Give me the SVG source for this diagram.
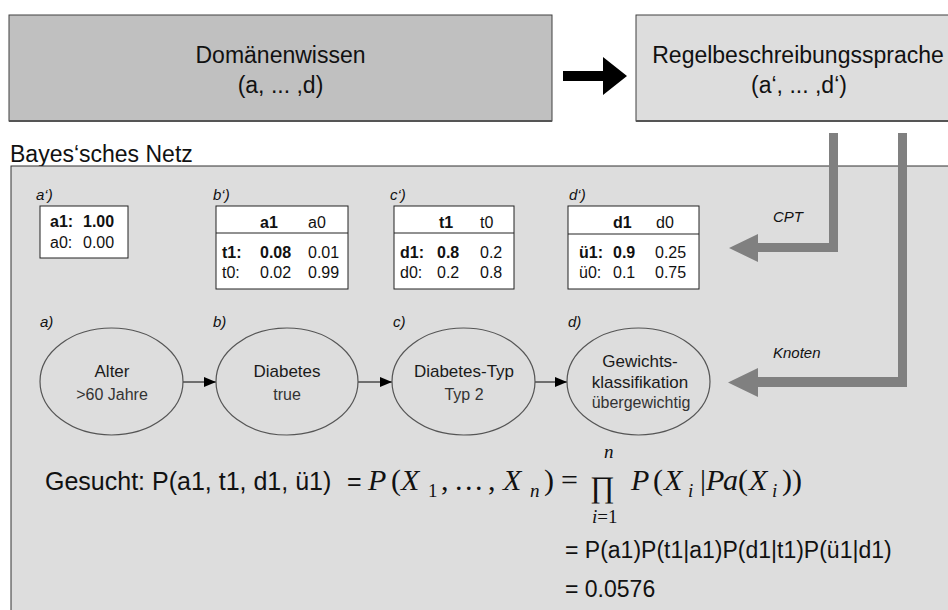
<svg xmlns="http://www.w3.org/2000/svg" width="948" height="610" viewBox="0 0 948 610">
<style>
.sans{font-family:"Liberation Sans",Arial,sans-serif;fill:#111}
.big{font-size:23px}
.lbl{font-size:15px;font-style:italic}
.tab{font-size:16px}
.b{font-weight:bold}
.node{font-family:"Liberation Sans",Arial,sans-serif;font-size:17px;fill:#1a1a1a;text-anchor:middle}
.sub{fill:#333;font-size:16px}
.ell{fill:none;stroke:#555;stroke-width:1.2}
.tbox{fill:#fff;stroke:#222;stroke-width:1}
.math{font-family:"Liberation Serif","Times New Roman",serif;fill:#111;font-size:30px}
.ms{font-size:19px}
.mi{font-style:italic}
.gray{fill:#808080}
</style>
<defs>
<marker id="ah" markerWidth="12" markerHeight="10" refX="12" refY="5" orient="auto" markerUnits="userSpaceOnUse">
<path d="M0,0 L12,5 L0,10 Z" fill="#000"/>
</marker>
</defs>
<rect x="0" y="0" width="948" height="610" fill="#fff"/>

<g id="domaenenwissen">
<rect x="9" y="15" width="543" height="106" fill="#c0c0c0" stroke="#404040" stroke-width="1"/>
<line x1="9" y1="121" x2="552" y2="121" stroke="#555" stroke-width="2"/>
<text class="sans big" x="280.5" y="63" text-anchor="middle">Domänenwissen</text>
<text class="sans big" x="280.5" y="93" text-anchor="middle">(a, ... ,d)</text>
</g>

<g id="regelbeschreibungssprache">
<rect x="636" y="15" width="330" height="106" fill="#dddddd" stroke="#404040" stroke-width="1"/>
<line x1="636" y1="121" x2="948" y2="121" stroke="#555" stroke-width="2"/>
<text class="sans big" x="798" y="63" text-anchor="middle">Regelbeschreibungssprache</text>
<text class="sans big" x="799" y="93" text-anchor="middle">(a‘, ... ,d‘)</text>
</g>

<g id="bayes-netz">
<text class="sans big" x="10" y="162">Bayes‘sches Netz</text>
<rect x="11" y="166" width="960" height="460" fill="#dddddd" stroke="#333" stroke-width="1"/>
</g>

<g id="connectors">
<polygon points="563,71 603,71 603,57 627,76 603,95 603,81 563,81" fill="#000"/>
<path class="gray" d="M829,133 H838 V252 H758 V262 L729,248 L758,234 V243 H829 Z"/>
<path class="gray" d="M898,133 H907 V387 H758 V397 L728,382.5 L758,368 V377 H898 Z"/>
<line x1="183" y1="382" x2="216" y2="382" stroke="#000" stroke-width="1" marker-end="url(#ah)"/>
<line x1="358" y1="382" x2="392" y2="382" stroke="#000" stroke-width="1" marker-end="url(#ah)"/>
<line x1="535" y1="382" x2="567" y2="382" stroke="#000" stroke-width="1" marker-end="url(#ah)"/>
<text class="sans lbl" x="773" y="222">CPT</text>
<text class="sans lbl" x="773" y="358">Knoten</text>
</g>

<g id="cpt-a">
<text class="sans lbl" x="36" y="200">a‘)</text>
<rect class="tbox" x="40" y="206" width="88" height="52"/>
<text class="sans tab b" x="50" y="227">a1:</text>
<text class="sans tab b" x="83" y="227">1.00</text>
<text class="sans tab" x="50" y="248">a0:</text>
<text class="sans tab" x="83" y="248">0.00</text>
</g>

<g id="cpt-b">
<text class="sans lbl" x="213" y="200">b‘)</text>
<rect class="tbox" x="216" y="206" width="132" height="83"/>
<line x1="216" y1="233" x2="348" y2="233" stroke="#222"/>
<text class="sans tab b" x="260" y="228">a1</text>
<text class="sans tab" x="308" y="228">a0</text>
<text class="sans tab b" x="222" y="258">t1:</text>
<text class="sans tab b" x="260" y="258">0.08</text>
<text class="sans tab" x="308" y="258">0.01</text>
<text class="sans tab" x="222" y="278">t0:</text>
<text class="sans tab" x="260" y="278">0.02</text>
<text class="sans tab" x="308" y="278">0.99</text>
</g>

<g id="cpt-c">
<text class="sans lbl" x="390" y="200">c‘)</text>
<rect class="tbox" x="394" y="206" width="120" height="83"/>
<line x1="394" y1="233" x2="514" y2="233" stroke="#222"/>
<text class="sans tab b" x="439" y="228">t1</text>
<text class="sans tab" x="480" y="228">t0</text>
<text class="sans tab b" x="400" y="258">d1:</text>
<text class="sans tab b" x="437" y="258">0.8</text>
<text class="sans tab" x="480" y="258">0.2</text>
<text class="sans tab" x="400" y="278">d0:</text>
<text class="sans tab" x="437" y="278">0.2</text>
<text class="sans tab" x="480" y="278">0.8</text>
</g>

<g id="cpt-d">
<text class="sans lbl" x="569" y="200">d‘)</text>
<rect class="tbox" x="568" y="206" width="131" height="83"/>
<line x1="568" y1="234" x2="699" y2="234" stroke="#222"/>
<text class="sans tab b" x="613" y="228">d1</text>
<text class="sans tab" x="656" y="228">d0</text>
<text class="sans tab b" x="579" y="258">ü1:</text>
<text class="sans tab b" x="613" y="258">0.9</text>
<text class="sans tab" x="655" y="258">0.25</text>
<text class="sans tab" x="579" y="278">ü0:</text>
<text class="sans tab" x="613" y="278">0.1</text>
<text class="sans tab" x="655" y="278">0.75</text>
</g>

<g id="node-a">
<text class="sans lbl" x="40" y="327">a)</text>
<ellipse class="ell" cx="111.5" cy="381.5" rx="71.5" ry="53.5"/>
<text class="node" x="112" y="377">Alter</text>
<text class="node sub" x="112" y="400">&gt;60 Jahre</text>
</g>

<g id="node-b">
<text class="sans lbl" x="213" y="327">b)</text>
<ellipse class="ell" cx="287" cy="381.5" rx="71" ry="53.5"/>
<text class="node" x="287" y="377">Diabetes</text>
<text class="node sub" x="287" y="400">true</text>
</g>

<g id="node-c">
<text class="sans lbl" x="393" y="327">c)</text>
<ellipse class="ell" cx="463.5" cy="381.5" rx="71.5" ry="53.5"/>
<text class="node" x="464" y="377">Diabetes-Typ</text>
<text class="node sub" x="464" y="400">Typ 2</text>
</g>

<g id="node-d">
<text class="sans lbl" x="568" y="327">d)</text>
<ellipse class="ell" cx="638.5" cy="381.5" rx="71.5" ry="53.5"/>
<text class="node" x="640" y="367">Gewichts-</text>
<text class="node" x="640" y="388">klassifikation</text>
<text class="node sub" x="641" y="408">übergewichtig</text>
</g>

<g id="formel">
<text class="sans" x="45" y="490" font-size="25">Gesucht: P(a1, t1, d1, ü1)</text>
<text class="sans" x="347" y="490" font-size="25">=</text>
<text class="math mi" x="368" y="490">P</text>
<text class="math" x="391" y="490">(</text>
<text class="math mi" x="401" y="490">X</text>
<text class="math ms" x="428" y="497">1</text>
<text class="math" x="441" y="490">,</text>
<text class="math" x="455" y="490">.</text>
<text class="math" x="465" y="490">.</text>
<text class="math" x="475" y="490">.</text>
<text class="math" x="488" y="490">,</text>
<text class="math mi" x="503" y="490">X</text>
<text class="math mi ms" x="530" y="497">n</text>
<text class="math" x="544" y="490">)</text>
<text class="math" x="561" y="490">=</text>
<text class="math" x="590" y="497" font-size="38">∏</text>
<text class="math mi ms" x="604" y="458">n</text>
<text class="math ms" x="592" y="523"><tspan class="mi">i</tspan>=1</text>
<text class="math mi" x="631" y="490">P</text>
<text class="math" x="653" y="490">(</text>
<text class="math mi" x="664" y="490">X</text>
<text class="math mi ms" x="688" y="497">i</text>
<text class="math" x="700" y="490">|</text>
<text class="math mi" x="706" y="490">P</text>
<text class="math mi" x="723" y="490">a</text>
<text class="math" x="738" y="490">(</text>
<text class="math mi" x="749" y="490">X</text>
<text class="math mi ms" x="772" y="497">i</text>
<text class="math" x="782" y="490">))</text>
<text class="sans big" x="565" y="558">= P(a1)P(t1|a1)P(d1|t1)P(ü1|d1)</text>
<text class="sans big" x="565" y="597">= 0.0576</text>
</g>
</svg>
